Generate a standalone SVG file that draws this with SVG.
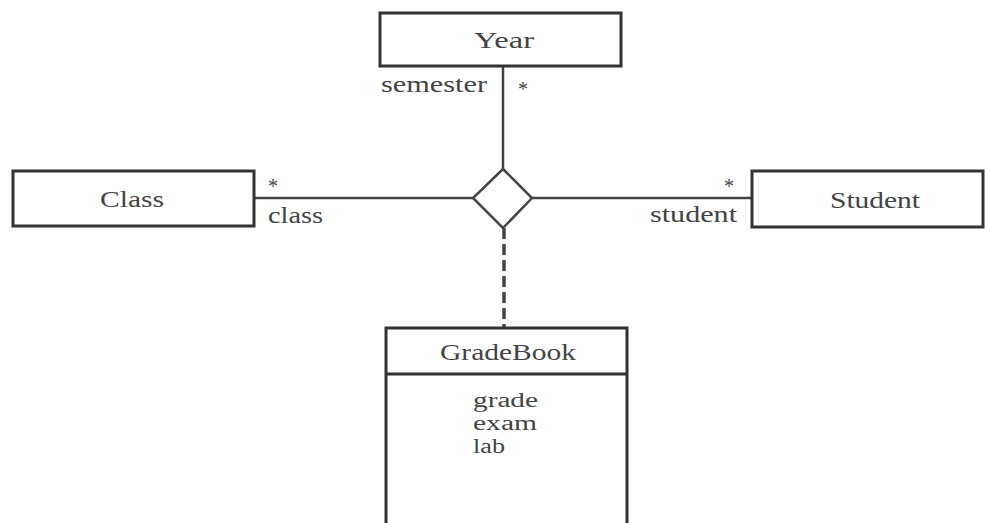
<svg xmlns="http://www.w3.org/2000/svg" width="985" height="523" viewBox="0 0 985 523">
<style>
.box{fill:#fff;stroke:#333;stroke-width:3}
.ln{stroke:#444;stroke-width:2.5;fill:none}
.dash{stroke:#444;stroke-width:3.5;fill:none;stroke-dasharray:11 5}
text{font-family:"Liberation Serif","Times New Roman",serif;font-size:24px;fill:#444}
.attr{font-size:20px}
.star{font-size:20px}
</style>
<rect width="985" height="523" fill="#fff"/>
<g id="connectors">
<line class="ln" x1="503" y1="66" x2="503" y2="169"/>
<line class="ln" x1="254" y1="198" x2="473" y2="198"/>
<line class="ln" x1="532" y1="198" x2="752" y2="198"/>
<line class="dash" x1="504" y1="228" x2="504" y2="328"/>
<text x="381" y="92" textLength="106" lengthAdjust="spacingAndGlyphs">semester</text>
<text class="star" x="518" y="96">*</text>
<text class="star" x="268" y="193">*</text>
<text x="268" y="223" textLength="55" lengthAdjust="spacingAndGlyphs">class</text>
<text class="star" x="724" y="193">*</text>
<text x="650" y="222" textLength="87" lengthAdjust="spacingAndGlyphs">student</text>
</g>
<g id="assoc">
<polygon points="503,169 532,198 503,228 473,198" fill="#fff" stroke="#444" stroke-width="2.5"/>
</g>
<g id="year">
<rect class="box" x="380" y="13" width="241" height="53"/>
<text x="474" y="48" textLength="60" lengthAdjust="spacingAndGlyphs">Year</text>
</g>
<g id="class">
<rect class="box" x="13" y="171" width="241" height="55"/>
<text x="100" y="207" textLength="64" lengthAdjust="spacingAndGlyphs">Class</text>
</g>
<g id="student">
<rect class="box" x="752" y="171" width="231" height="56"/>
<text x="830" y="208" textLength="90" lengthAdjust="spacingAndGlyphs">Student</text>
</g>
<g id="gradebook">
<rect class="box" x="386" y="328" width="241" height="205"/>
<line class="box" x1="386" y1="374" x2="627" y2="374"/>
<text x="440" y="360" textLength="136" lengthAdjust="spacingAndGlyphs">GradeBook</text>
<text class="attr" x="473" y="407" textLength="65" lengthAdjust="spacingAndGlyphs">grade</text>
<text class="attr" x="473" y="430" textLength="64" lengthAdjust="spacingAndGlyphs">exam</text>
<text class="attr" x="473" y="453" textLength="32" lengthAdjust="spacingAndGlyphs">lab</text>
</g>
</svg>
